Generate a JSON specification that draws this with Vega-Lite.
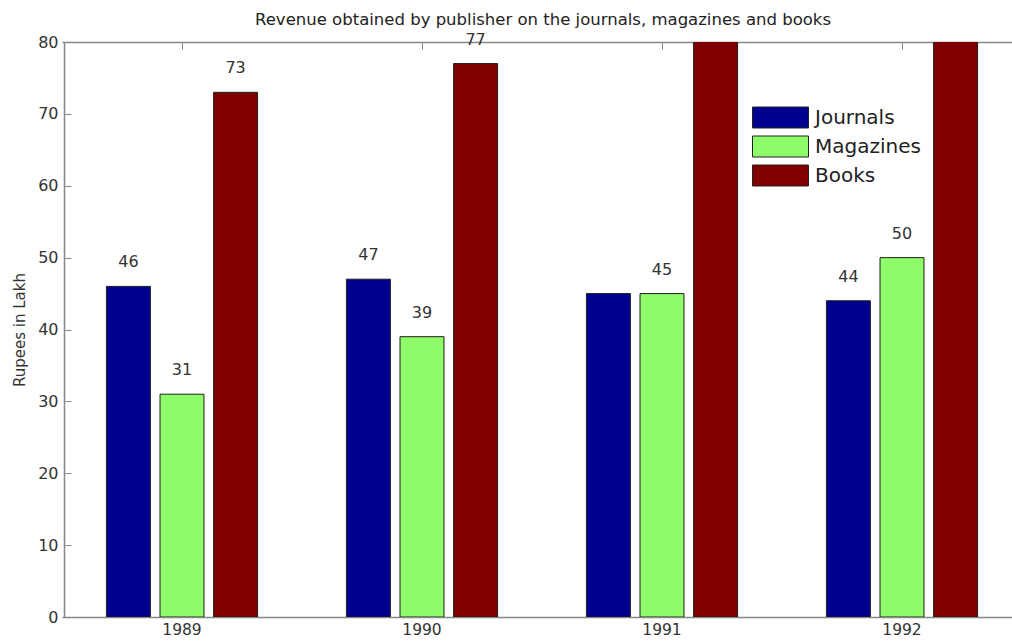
{
  "$schema": "https://vega.github.io/schema/vega-lite/v6.json",
  "autosize": {"type": "none"},
  "padding": {"left": 64, "top": 42, "right": 0, "bottom": 25},
  "width": 948,
  "height": 575,
  "background": "white",
  "config": {
    "font": "DejaVu Sans",
    "view": {"stroke": null}
  },
  "title": {
    "text": "Revenue obtained by publisher on the journals, magazines and books",
    "fontSize": 16.5,
    "fontWeight": "normal",
    "color": "#222",
    "anchor": "middle",
    "offset": 3,
    "dx": 5
  },
  "data": {
    "values": [
      {"year": "1989", "series": "Journals", "value": 46, "label": "46"},
      {"year": "1989", "series": "Magazines", "value": 31, "label": "31"},
      {"year": "1989", "series": "Books", "value": 73, "label": "73"},
      {"year": "1990", "series": "Journals", "value": 47, "label": "47"},
      {"year": "1990", "series": "Magazines", "value": 39, "label": "39"},
      {"year": "1990", "series": "Books", "value": 77, "label": "77"},
      {"year": "1991", "series": "Journals", "value": 45, "label": null},
      {"year": "1991", "series": "Magazines", "value": 45, "label": "45"},
      {"year": "1991", "series": "Books", "value": 90, "label": null},
      {"year": "1992", "series": "Journals", "value": 44, "label": "44"},
      {"year": "1992", "series": "Magazines", "value": 50, "label": "50"},
      {"year": "1992", "series": "Books", "value": 90, "label": null}
    ]
  },
  "layer": [
    {
      "mark": {"type": "bar", "clip": true, "stroke": "#1e1e1e", "strokeWidth": 1},
      "encoding": {
        "x": {
          "field": "year", "type": "nominal", "sort": ["1989", "1990", "1991", "1992"],
          "scale": {"range": [-2, 958], "paddingInner": 0.33, "paddingOuter": 0.165},
          "axis": {
            "orient": "bottom", "title": null, "labelAngle": 0, "labelFontSize": 15.5,
            "labelColor": "#333", "ticks": false, "labelPadding": 5,
            "domainColor": "#888", "domainWidth": 1.5
          }
        },
        "xOffset": {
          "field": "series", "type": "nominal", "sort": ["Journals", "Magazines", "Books"],
          "scale": {"paddingInner": 0.18, "paddingOuter": 0.09}
        },
        "y": {
          "field": "value", "type": "quantitative",
          "scale": {"domain": [0, 80], "nice": false},
          "axis": {
            "values": [0, 10, 20, 30, 40, 50, 60, 70, 80],
            "title": "Rupees in Lakh", "titleFontSize": 15, "titleFontWeight": "normal",
            "titleColor": "#333", "titlePadding": 10,
            "labelFontSize": 16, "labelColor": "#333", "labelPadding": 13,
            "tickSize": -7, "tickColor": "#888", "domainColor": "#888", "domainWidth": 1.5,
            "grid": false
          }
        },
        "color": {
          "field": "series", "type": "nominal",
          "scale": {"domain": ["Journals", "Magazines", "Books"], "range": ["#000090", "#8FFC6A", "#800000"]},
          "legend": {
            "title": null, "orient": "none", "legendX": 702, "legendY": 61,
            "symbolType": "M-2,-0.75H2V0.75H-2Z", "symbolSize": 784,
            "symbolStrokeColor": "#222", "symbolStrokeWidth": 1, "symbolOpacity": 1,
            "labelFontSize": 20, "labelColor": "#222", "labelOffset": 20,
            "rowPadding": 2, "fillColor": "white"
          }
        }
      }
    },
    {
      "transform": [{"filter": "datum.label != null"}],
      "mark": {"type": "text", "fontSize": 16, "color": "#333", "dy": -24, "baseline": "middle"},
      "encoding": {
        "x": {
          "field": "year", "type": "nominal", "sort": ["1989", "1990", "1991", "1992"],
          "axis": {
            "orient": "top", "title": null, "labels": false, "tickSize": -7,
            "tickColor": "#888", "domainColor": "#888", "domainWidth": 1.5
          }
        },
        "xOffset": {"field": "series", "type": "nominal", "sort": ["Journals", "Magazines", "Books"]},
        "y": {"field": "value", "type": "quantitative"},
        "text": {"field": "label"}
      }
    }
  ],
  "resolve": {"axis": {"x": "independent"}}
}
